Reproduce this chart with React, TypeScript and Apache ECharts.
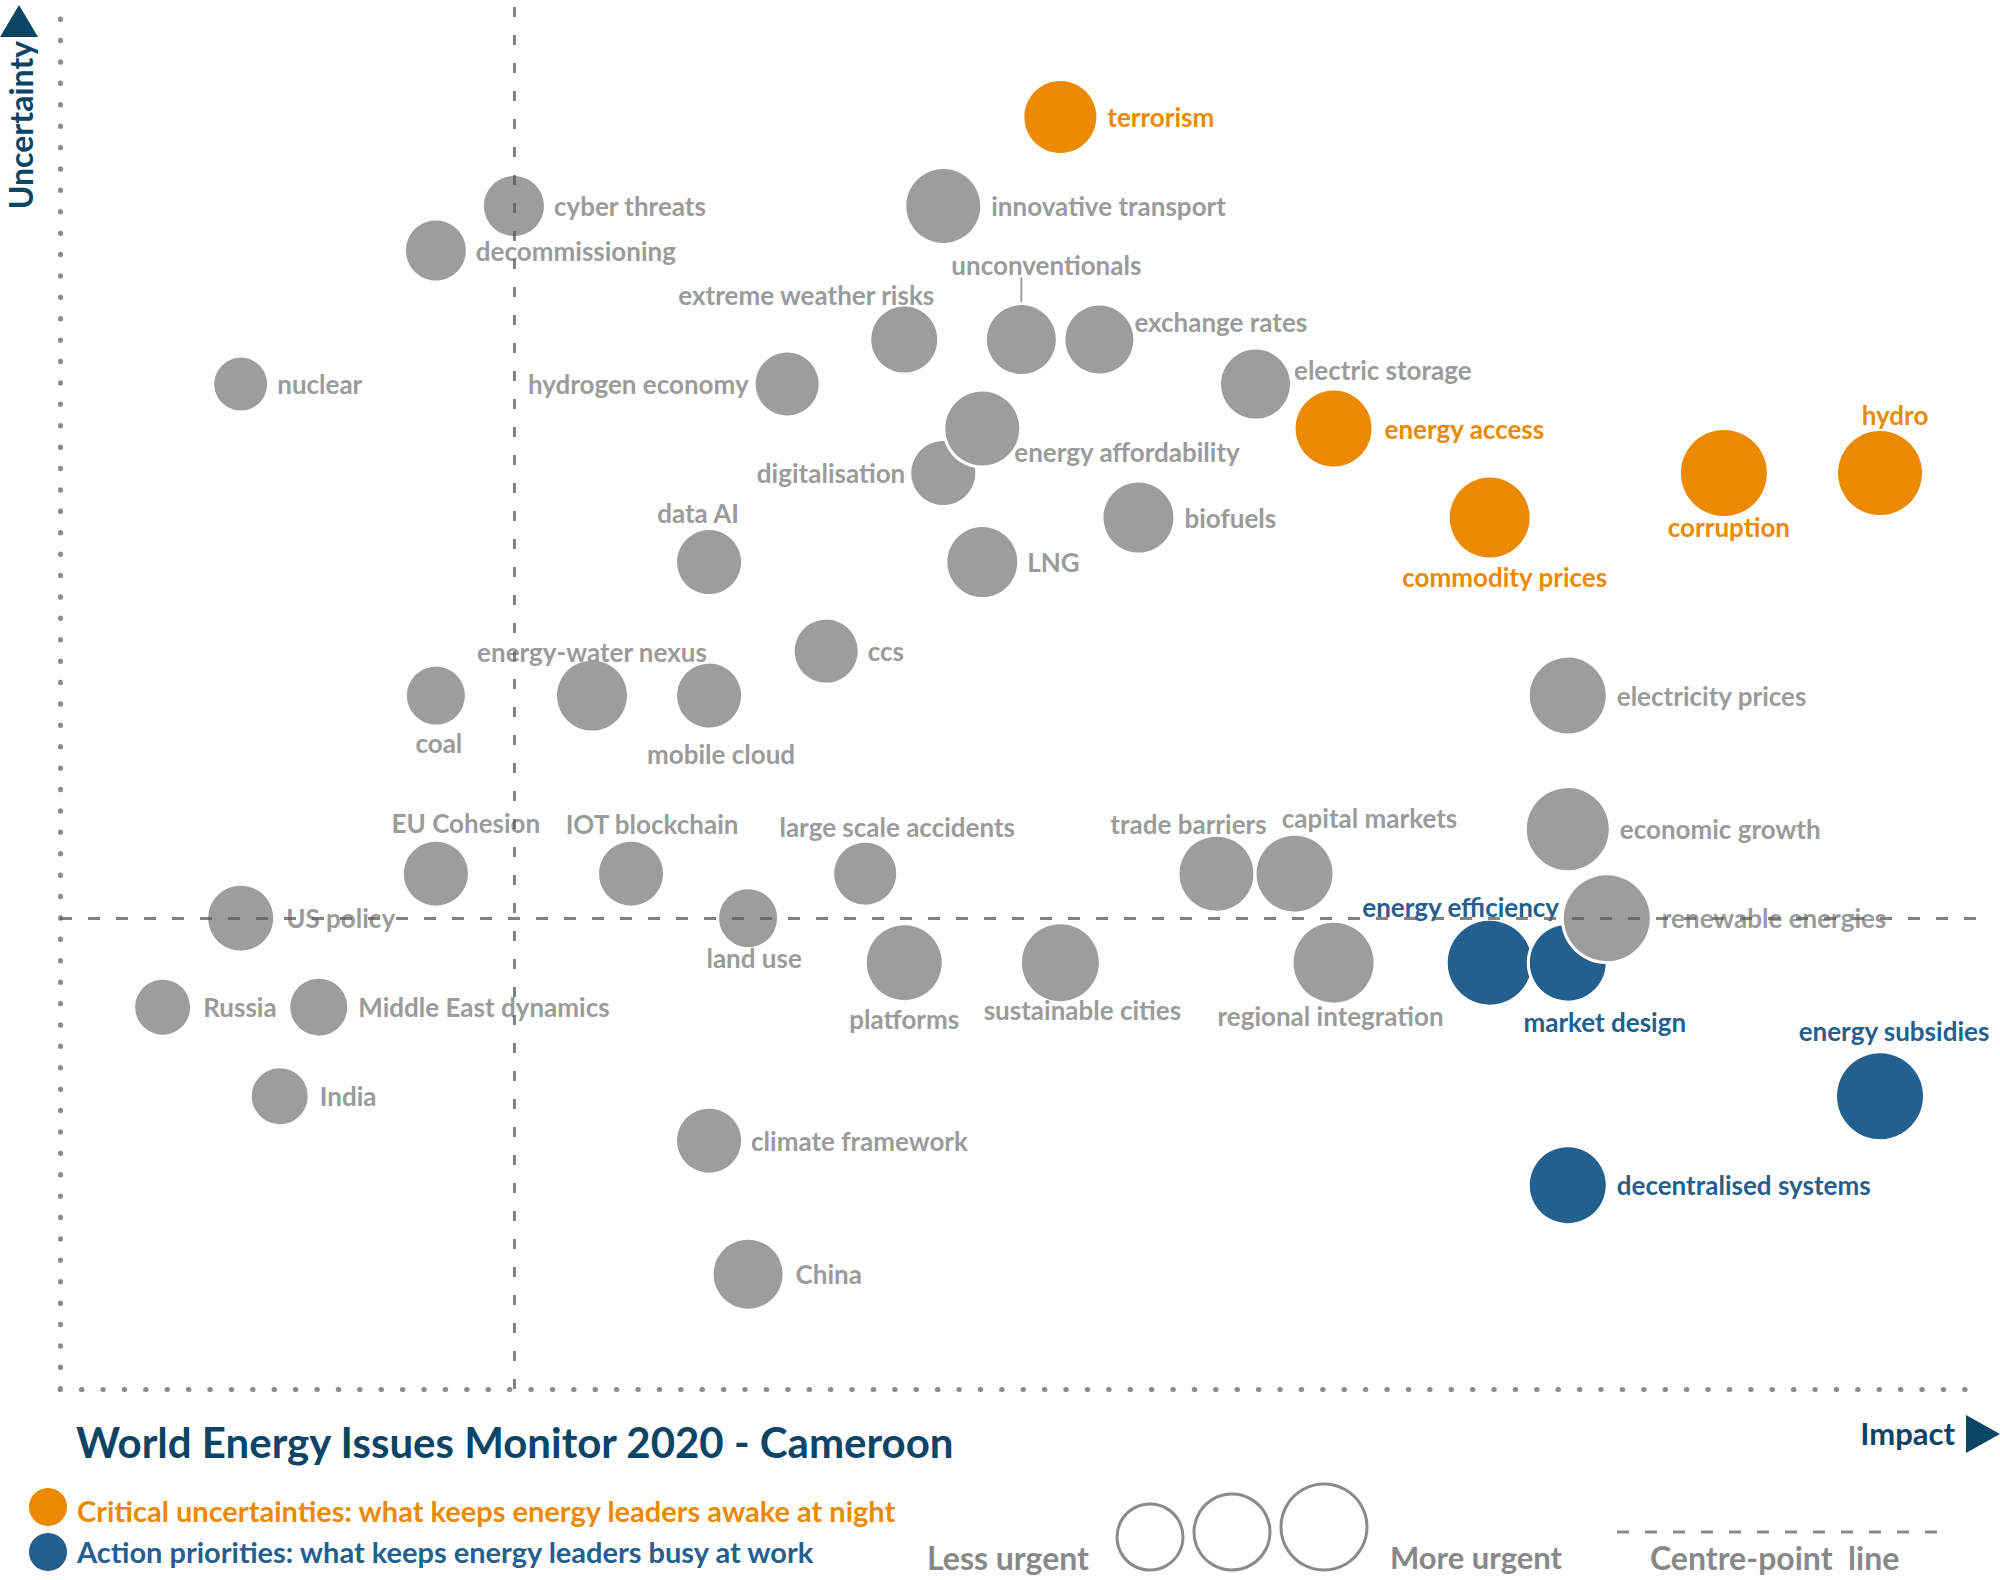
import React, { useEffect, useRef } from "react";
import * as echarts from "echarts";

// ---------------- DATA ----------------
const criticalNames = ["terrorism", "energy access", "commodity prices", "corruption", "hydro"];
const criticalImpact = [14, 21, 25, 31, 35];
const criticalUncertainty = [18, 11, 9, 10, 10];
const criticalUrgency = [3.6, 3.8, 4.0, 4.3, 4.2];

const actionNames = ["energy efficiency", "market design", "energy subsidies", "decentralised systems"];
const actionImpact = [25, 27, 35, 27];
const actionUncertainty = [-1, -1, -4, -6];
const actionUrgency = [4.2, 3.8, 4.3, 3.8];

const otherNames = [
  "cyber threats", "decommissioning", "nuclear", "innovative transport", "unconventionals",
  "extreme weather risks", "exchange rates", "hydrogen economy", "electric storage", "digitalisation",
  "energy affordability", "data AI", "LNG", "biofuels", "ccs",
  "coal", "energy-water nexus", "mobile cloud", "electricity prices", "EU Cohesion",
  "IOT blockchain", "large scale accidents", "trade barriers", "capital markets", "economic growth",
  "renewable energies", "US policy", "land use", "platforms", "sustainable cities",
  "regional integration", "Russia", "Middle East dynamics", "India", "climate framework",
  "China",
];
const otherImpact = [
  0, -2, -7, 11, 13,
  10, 15, 7, 19, 11,
  12, 5, 12, 16, 8,
  -2, 2, 5, 27, -2,
  3, 9, 18, 20, 27,
  28, -7, 6, 10, 14,
  21, -9, -5, -6, 5,
  6,
];
const otherUncertainty = [
  16, 15, 12, 16, 13,
  13, 13, 12, 12, 10,
  11, 8, 8, 9, 6,
  5, 5, 5, 5, 1,
  1, 1, 1, 1, 2,
  0, 0, 0, -1, -1,
  -1, -2, -2, -4, -5,
  -8,
];
const otherUrgency = [
  3.0, 3.0, 2.65, 3.7, 3.45,
  3.3, 3.4, 3.15, 3.45, 3.2,
  3.7, 3.2, 3.5, 3.5, 3.15,
  2.9, 3.5, 3.2, 3.8, 3.2,
  3.2, 3.1, 3.7, 3.8, 4.1,
  4.3, 3.25, 2.9, 3.75, 3.85,
  4.0, 2.75, 2.85, 2.8, 3.2,
  3.45,
];

// axis extent and centre-point lines
const IMPACT_MIN = -11.63;
const IMPACT_MAX = 37.69;
const UNCERTAINTY_MIN = -10.58;
const UNCERTAINTY_MAX = 20.63;
const CENTRE_IMPACT = 0;
const CENTRE_UNCERTAINTY = 0;

// ---------------- STYLE ----------------
const ORANGE = "#EB8A00";
const BLUE = "#245F8E";
const GREY = "#9D9D9D";
const LABEL_GREY = "#9B9B9B";
const NAVY = "#0B4566";
const LEGEND_GREY = "#888888";
const FONT = "Lato";
const BORDER = 3;

type LL = { p: string; d: number; o?: [number, number]; a?: string };
const labelLayout: Record<string, LL> = {
  "terrorism": { p: "right", d: 8 },
  "energy access": { p: "right", d: 10 },
  "commodity prices": { p: "bottom", d: 3, o: [15, 0] },
  "corruption": { p: "bottom", d: -5, o: [5, 0] },
  "hydro": { p: "top", d: 0, o: [15, 0] },
  "energy efficiency": { p: "top", d: -2, o: [-29, 0] },
  "market design": { p: "bottom", d: 5, o: [37, 0] },
  "energy subsidies": { p: "top", d: 6, o: [14, 0] },
  "decentralised systems": { p: "right", d: 8 },
  "cyber threats": { p: "right", d: 7 },
  "decommissioning": { p: "right", d: 7 },
  "nuclear": { p: "right", d: 7 },
  "innovative transport": { p: "right", d: 8 },
  "unconventionals": { p: "top", d: 24, o: [25, 0] },
  "extreme weather risks": { p: "top", d: -4, o: [30, 0], a: "right" },
  "exchange rates": { p: "right", d: -2, o: [0, -18] },
  "hydrogen economy": { p: "left", d: 4 },
  "electric storage": { p: "right", d: 1, o: [0, -14] },
  "digitalisation": { p: "left", d: 3 },
  "energy affordability": { p: "right", d: -8, o: [0, 23] },
  "data AI": { p: "top", d: 1, o: [-11, 0] },
  "LNG": { p: "right", d: 7 },
  "biofuels": { p: "right", d: 8 },
  "ccs": { p: "right", d: 7 },
  "coal": { p: "bottom", d: 2, o: [3, 0] },
  "energy-water nexus": { p: "top", d: -7 },
  "mobile cloud": { p: "bottom", d: 10, o: [12, 0] },
  "electricity prices": { p: "right", d: 8 },
  "EU Cohesion": { p: "top", d: 3, o: [30, 0] },
  "IOT blockchain": { p: "top", d: 2, o: [21, 0] },
  "large scale accidents": { p: "top", d: 0, o: [32, 0] },
  "trade barriers": { p: "top", d: -3, o: [-28, 0] },
  "capital markets": { p: "top", d: 2, o: [75, 0] },
  "economic growth": { p: "right", d: 8 },
  "renewable energies": { p: "right", d: 9 },
  "US policy": { p: "right", d: 10 },
  "land use": { p: "bottom", d: -5, o: [6, 0] },
  "platforms": { p: "bottom", d: 3 },
  "sustainable cities": { p: "bottom", d: -7, o: [22, 0] },
  "regional integration": { p: "bottom", d: -3, o: [-3, 0] },
  "Russia": { p: "right", d: 10 },
  "Middle East dynamics": { p: "right", d: 8 },
  "India": { p: "right", d: 9 },
  "climate framework": { p: "right", d: 7 },
  "China": { p: "right", d: 10 },
};

function buildData(names: string[], xs: number[], ys: number[], us: number[], color: string) {
  return names.map((n, i) => {
    const l = labelLayout[n] || { p: "right", d: 10 };
    const label: any = { show: true, position: l.p, distance: l.d, color };
    if (l.o) label.offset = l.o;
    if (l.a) label.align = l.a;
    return { name: n, value: [xs[i], ys[i], us[i]], label };
  });
}

function scatter(name: string, data: any[], color: string, labelColor: string, z: number) {
  return {
    name,
    type: "scatter",
    z,
    data,
    symbol: "circle",
    symbolSize: (v: number[]) => v[2] * 20 + BORDER,
    itemStyle: { color, borderColor: "#ffffff", borderWidth: BORDER, opacity: 1 },
    label: {
      show: true,
      formatter: "{b}",
      fontFamily: FONT,
      fontWeight: "bold",
      fontSize: 26,
      color: labelColor,
    },
    emphasis: { disabled: true },
    silent: true,
  };
}

export default function App() {
  const ref = useRef<HTMLDivElement>(null);
  useEffect(() => {
    if (!ref.current) return;
    const chart = echarts.init(ref.current, undefined, { renderer: "svg" });
    const dotted = { color: "#8C8C8C", width: 5, type: [0.5, 20.9], cap: "round" };
    const ui = otherNames.indexOf("unconventionals");
    const option: any = {
      animation: false,
      backgroundColor: "#ffffff",
      grid: { left: 60, top: 0, width: 1925, height: 1389, containLabel: false },
      xAxis: {
        type: "value",
        min: IMPACT_MIN,
        max: IMPACT_MAX,
        axisLine: { show: true, onZero: false, lineStyle: dotted },
        axisTick: { show: false },
        axisLabel: { show: false },
        splitLine: { show: false },
      },
      yAxis: {
        type: "value",
        min: UNCERTAINTY_MIN,
        max: UNCERTAINTY_MAX,
        axisLine: { show: true, onZero: false, lineStyle: dotted },
        axisTick: { show: false },
        axisLabel: { show: false },
        splitLine: { show: false },
      },
      series: [
        {
          type: "line",
          z: 1,
          silent: true,
          symbol: "none",
          lineStyle: { color: GREY, width: 2 },
          data: [
            [otherImpact[ui], otherUncertainty[ui]],
            [otherImpact[ui], otherUncertainty[ui] + 1.4],
          ],
        },
        scatter("Critical uncertainties", buildData(criticalNames, criticalImpact, criticalUncertainty, criticalUrgency, ORANGE), ORANGE, ORANGE, 2),
        scatter("Action priorities", buildData(actionNames, actionImpact, actionUncertainty, actionUrgency, BLUE), BLUE, BLUE, 3),
        scatter("Other issues", buildData(otherNames, otherImpact, otherUncertainty, otherUrgency, LABEL_GREY), GREY, LABEL_GREY, 4),
        {
          type: "line",
          z: 10,
          silent: true,
          data: [],
          markLine: {
            silent: true,
            symbol: "none",
            label: { show: false },
            emphasis: { disabled: true },
            data: [
              { xAxis: CENTRE_IMPACT, lineStyle: { color: "rgba(90,90,90,0.75)", width: 3, type: [10, 18] } },
              { yAxis: CENTRE_UNCERTAINTY, lineStyle: { color: "rgba(90,90,90,0.75)", width: 3, type: [12, 16] } },
            ],
          },
        },
      ],
      graphic: [
        { type: "polygon", shape: { points: [[0, 37], [38, 37], [19, 5]] }, style: { fill: NAVY } },
        {
          type: "text", x: 20, y: 125, rotation: Math.PI / 2,
          style: { text: "Uncertainty", fill: NAVY, font: `bold 32px ${FONT}`, align: "center", verticalAlign: "middle" },
        },
        { type: "polygon", shape: { points: [[1966, 1415], [1966, 1453], [2000, 1434]] }, style: { fill: NAVY } },
        {
          type: "text", x: 1955, y: 1433,
          style: { text: "Impact", fill: NAVY, font: `bold 31px ${FONT}`, align: "right", verticalAlign: "middle" },
        },
        {
          type: "text", x: 76, y: 1442,
          style: { text: "World Energy Issues Monitor 2020 - Cameroon", fill: NAVY, font: `bold 42px ${FONT}`, align: "left", verticalAlign: "middle" },
        },
        { type: "circle", shape: { cx: 48, cy: 1507, r: 19 }, style: { fill: ORANGE } },
        {
          type: "text", x: 77, y: 1510,
          style: { text: "Critical uncertainties: what keeps energy leaders awake at night", fill: ORANGE, font: `bold 29px ${FONT}`, align: "left", verticalAlign: "middle" },
        },
        { type: "circle", shape: { cx: 48, cy: 1552, r: 19 }, style: { fill: BLUE } },
        {
          type: "text", x: 77, y: 1551,
          style: { text: "Action priorities: what keeps energy leaders busy at work", fill: BLUE, font: `bold 29px ${FONT}`, align: "left", verticalAlign: "middle" },
        },
        {
          type: "text", x: 927, y: 1557,
          style: { text: "Less urgent", fill: LEGEND_GREY, font: `bold 32px ${FONT}`, align: "left", verticalAlign: "middle" },
        },
        { type: "circle", shape: { cx: 1150, cy: 1537, r: 33 }, style: { fill: "#ffffff", stroke: "#8A8A8A", lineWidth: 3 } },
        { type: "circle", shape: { cx: 1232, cy: 1532, r: 38 }, style: { fill: "#ffffff", stroke: "#8A8A8A", lineWidth: 3 } },
        { type: "circle", shape: { cx: 1324, cy: 1527, r: 43 }, style: { fill: "#ffffff", stroke: "#8A8A8A", lineWidth: 3 } },
        {
          type: "text", x: 1390, y: 1557,
          style: { text: "More urgent", fill: LEGEND_GREY, font: `bold 31px ${FONT}`, align: "left", verticalAlign: "middle" },
        },
        {
          type: "line", shape: { x1: 1617, y1: 1532, x2: 1951, y2: 1532 },
          style: { stroke: "#8A8A8A", lineWidth: 3, lineDash: [12, 16] },
        },
        {
          type: "text", x: 1650, y: 1557,
          style: { text: "Centre-point  line", fill: LEGEND_GREY, font: `bold 32px ${FONT}`, align: "left", verticalAlign: "middle" },
        },
      ],
    };
    chart.setOption(option);
    return () => chart.dispose();
  }, []);
  return (
    <div
      ref={ref}
      style={{ position: "absolute", left: 0, top: 0, width: 2000, height: 1580, background: "#fff" }}
    />
  );
}
